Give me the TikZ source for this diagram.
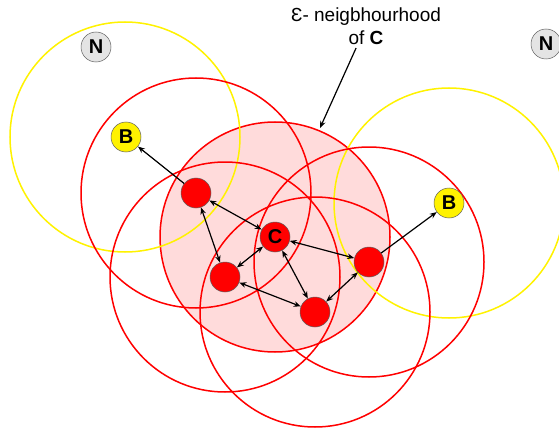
\documentclass[tikz,border=0pt]{standalone}
\usepackage{fontspec}
\setmainfont{Liberation Sans}
\usetikzlibrary{arrows.meta}
\definecolor{noisegray}{RGB}{228,228,228}
\definecolor{rimgray}{RGB}{95,95,95}
\begin{document}
\begin{tikzpicture}[x=1pt,y=-1pt,
  pt/.style={circle, draw=rimgray, line width=0.5pt, minimum size=30pt, inner sep=0pt, font=\fontsize{20}{20}\selectfont\bfseries},
  core/.style={pt, fill=red},
  border/.style={pt, fill=yellow},
  noise/.style={pt, fill=noisegray},
  reach/.style={draw=red, line width=1.5pt},
  fringe/.style={draw=yellow, line width=1.5pt},
  link/.style={{Stealth[length=7pt,width=5.5pt]}-{Stealth[length=7pt,width=5.5pt]}, line width=1.2pt},
  pointer/.style={-{Stealth[length=7pt,width=5.5pt]}, line width=1.2pt}]
\useasboundingbox (0,0) rectangle (559,433);

\fill[red!14] (275,237) circle[radius=115pt];
\draw[reach] (275,237) circle[radius=115pt];
\draw[fringe] (125,137) circle[radius=115pt];
\draw[fringe] (449,203) circle[radius=115pt];
\draw[reach] (196,193) circle[radius=115pt];
\draw[reach] (225,277) circle[radius=115pt];
\draw[reach] (369,262) circle[radius=115pt];
\draw[reach] (315,312) circle[radius=115pt];

\node[noise] (n1) at (96,47) {N};
\node[noise] (n2) at (546,44) {N};
\node[border] (b1) at (126,137) {B};
\node[border] (b2) at (449,203) {B};
\node[core] (r1) at (196,193) {};
\node[core] (c) at (275,237) {C};
\node[core] (r3) at (225,277) {};
\node[core] (r4) at (369,262) {};
\node[core] (r5) at (315,312) {};

\draw[pointer] (r1) -- (b1);
\draw[pointer] (r4) -- (b2);
\draw[link] (r1) -- (c);
\draw[link] (r1) -- (r3);
\draw[link] (c) -- (r3);
\draw[link] (c) -- (r4);
\draw[link] (c) -- (r5);
\draw[link] (r3) -- (r5);
\draw[link] (r4) -- (r5);

\node[align=center, font=\fontsize{19}{23}\selectfont] (eps) at (366,26) {Ɛ- neigbhourhood\\of \textbf{C}};
\coordinate (rim) at (320,128);
\draw[pointer] (eps) -- (rim);

\end{tikzpicture}
\end{document}
